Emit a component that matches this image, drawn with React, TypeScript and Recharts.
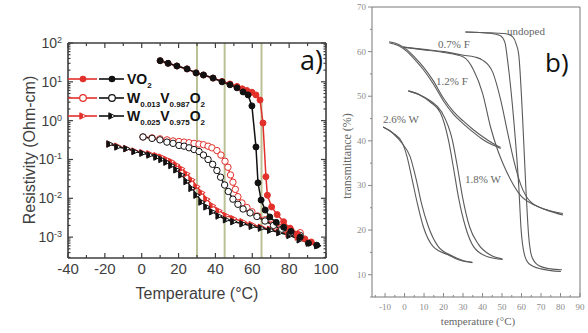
import React from 'react';
import { LineChart, Line, XAxis, YAxis, ReferenceLine } from 'recharts';

type Pt = [number, number];

// ---- panel a) resistivity (Ohm-cm) vs temperature (°C) ----
const vo2Red: Pt[] = [
  [10, 35], [14.3, 30], [19.1, 25.6], [24.6, 21.5], [29.5, 17], [33.5, 15], [38.7, 12.5], [43.6, 10.2],
  [47.9, 8.8], [51.7, 7.6], [54.5, 6.6], [57, 6], [59.8, 5.4], [62, 4.6], [64.2, 3.4], [65.8, 0.87],
  [67.4, 0.036], [68.2, 0.012], [70.5, 0.006], [73.5, 0.0038], [77, 0.0025], [80.5, 0.0017],
  [84.5, 0.0012], [88.5, 0.0009], [92, 0.00075],
];
const vo2Black: Pt[] = [
  [10, 35], [14.3, 30], [19.1, 25.6], [24.6, 21.5], [29.5, 17], [33.5, 15], [38.7, 12.5], [43.6, 10],
  [47.9, 8.4], [51.7, 7], [55, 5.5], [57.7, 4.6], [59.8, 2.4], [62, 0.21], [63.1, 0.025], [64.8, 0.009],
  [67, 0.005], [69.5, 0.0033], [73, 0.0024], [77, 0.0018], [81, 0.0014], [86, 0.001], [90.5, 0.0007],
  [95, 0.00062],
];
const w013Red: Pt[] = [
  [0.7, 0.38], [5.6, 0.36], [9.9, 0.34], [13.7, 0.32], [17, 0.3], [20.2, 0.29], [23, 0.28], [25.7, 0.27],
  [28.4, 0.26], [31.1, 0.25], [33.5, 0.24], [36, 0.22], [38.1, 0.2], [40.8, 0.17], [43, 0.13], [45.2, 0.09],
  [46.8, 0.063], [48.2, 0.04], [49.5, 0.026], [50.8, 0.017], [52.2, 0.011], [54.4, 0.0076], [57.1, 0.0058],
  [59.8, 0.0045], [63, 0.0035], [67, 0.0028], [71.5, 0.0022], [76, 0.0018], [81, 0.0015], [86, 0.0013],
];
const w013Black: Pt[] = [
  [0.7, 0.38], [5.6, 0.35], [9.9, 0.32], [13.7, 0.28], [17, 0.26], [20.2, 0.23], [23, 0.22], [25.7, 0.2],
  [28.4, 0.18], [31.1, 0.16], [33.5, 0.13], [36, 0.1], [38.5, 0.075], [40.8, 0.052], [42.8, 0.035],
  [45, 0.022], [47, 0.015], [49.5, 0.0095], [52.2, 0.007], [55, 0.0053], [58.8, 0.0042], [62.5, 0.0034],
  [66.9, 0.0026], [71.5, 0.002], [76, 0.0016], [81, 0.0013], [86, 0.0011],
];
const w025Red: Pt[] = [
  [-17.2, 0.25], [-12.9, 0.22], [-8, 0.19], [-3.6, 0.165], [0.7, 0.15], [4.5, 0.14], [8.3, 0.125],
  [11, 0.115], [13.7, 0.1], [16.4, 0.088], [19.1, 0.072], [21.8, 0.058], [24.6, 0.043], [27.3, 0.03],
  [30, 0.02], [32.7, 0.014], [35.4, 0.0095], [38.5, 0.0065], [42, 0.0048], [46, 0.0036], [50, 0.003],
  [55, 0.0025], [60, 0.0021], [65, 0.0018], [70, 0.0016], [75, 0.0014], [80, 0.0012], [85, 0.001],
];
const w025Black: Pt[] = [
  [-17.2, 0.25], [-12.9, 0.21], [-8, 0.19], [-3.6, 0.16], [0.7, 0.145], [4.5, 0.13], [8.3, 0.115],
  [11, 0.1], [13.7, 0.085], [16.4, 0.07], [19.1, 0.054], [21.8, 0.04], [24.6, 0.027], [27.3, 0.018],
  [30, 0.012], [32.7, 0.008], [35.4, 0.006], [38.5, 0.0045], [42, 0.0035], [46, 0.0028], [50, 0.0025],
  [55, 0.0022], [60, 0.0019], [65, 0.0017], [70, 0.0015], [75, 0.0013], [80.5, 0.0011], [86, 0.00085],
  [91, 0.0007], [95.6, 0.0006],
];
const transitionTemps = [30, 45, 65];
const aTempTicks = [-40, -30, -20, -10, 0, 10, 20, 30, 40, 50, 60, 70, 80, 90, 100];
const aLogMajors = [1e-3, 1e-2, 1e-1, 1, 10, 100];
const aLogMinors = [
  3e-4, 4e-4, 5e-4, 6e-4, 7e-4, 8e-4, 9e-4,
  2e-3, 3e-3, 4e-3, 5e-3, 6e-3, 7e-3, 8e-3, 9e-3,
  2e-2, 3e-2, 4e-2, 5e-2, 6e-2, 7e-2, 8e-2, 9e-2,
  0.2, 0.3, 0.4, 0.5, 0.6, 0.7, 0.8, 0.9,
  2, 3, 4, 5, 6, 7, 8, 9,
  20, 30, 40, 50, 60, 70, 80, 90,
];

// ---- panel b) transmittance (%) vs temperature (°C) ----
const undopedCool: Pt[] = [
  [31.2, 64.4], [44, 64.1], [49, 63.6], [51.5, 62], [53, 57.5], [56, 44.7], [58.6, 29.7], [59.8, 20],
  [61.5, 14.5], [64, 12.4], [70, 11.3], [80.2, 10.7],
];
const undopedHeat: Pt[] = [
  [31.2, 64.4], [44, 64.2], [52, 64], [55.5, 63.3], [57.2, 61.8], [58.6, 59.2], [60.6, 44.7], [62.2, 29.7],
  [63.7, 18.5], [65.5, 13.8], [69, 12], [75, 11.3], [80.7, 11.1],
];
const f07Cool: Pt[] = [
  [-0.7, 61], [10, 60.4], [20, 59.8], [30.2, 58.8], [35.4, 55.9], [40, 50.7], [44.1, 43.1], [47.7, 38],
  [50.3, 35.1], [54.4, 31.3], [59.6, 27.7], [67.3, 25.5], [74, 24.3], [81.2, 23.4],
];
const f07Heat: Pt[] = [
  [-0.7, 61], [10, 60.5], [20, 60], [30.2, 59.2], [36, 58.8], [40, 58.1], [45.2, 55.4], [49.3, 49.2],
  [52.9, 41.8], [56, 35.7], [59.6, 30.2], [64.7, 26.3], [72.5, 24.6], [81.2, 23.7],
];
const f12A: Pt[] = [
  [-7.9, 62.2], [-3, 61.6], [1.3, 60.4], [5.5, 58.6], [9.6, 56.6], [14.7, 53.5], [19.9, 49.6], [25, 46.6],
  [30.2, 44.4], [35, 42.6], [40.5, 40.8], [45, 39.5], [49.3, 38.5],
];
const f12B: Pt[] = [
  [-7.9, 62], [-3, 61.3], [1.3, 60], [5.5, 58.1], [9.6, 56], [14.7, 52.8], [19.9, 49], [25, 46],
  [30.2, 43.8], [35, 42], [40.5, 40.2], [45, 39.1], [49.3, 38.3],
];
const w18A: Pt[] = [
  [1.9, 51.2], [8, 50.2], [13.2, 48.7], [18.4, 46.3], [22.5, 40.2], [25, 34.2], [27.6, 27.5], [31.2, 20.8],
  [35.4, 16.3], [42.6, 14], [50.3, 13.4],
];
const w18B: Pt[] = [
  [1.9, 51.2], [8, 50.3], [13.2, 49], [19, 46.5], [24.5, 40.2], [27.1, 34.2], [29.7, 27.5], [33.3, 20.8],
  [37.9, 16.8], [44.1, 14.4], [50.3, 13.5],
];
const w26A: Pt[] = [
  [-11, 43.1], [-6, 41.8], [-1.2, 39.6], [1.3, 36.4], [3.9, 31.3], [6.5, 26.1], [9.6, 20.8], [14.7, 16.3],
  [22, 14.5], [28, 13.3], [34.8, 12.7],
];
const w26B: Pt[] = [
  [-11, 43.1], [-6, 41.7], [-1.2, 39.4], [2.9, 36.4], [6, 31.3], [8.6, 26.1], [12.2, 20.8], [17.3, 16.3],
  [24.5, 14.2], [30, 13.2], [34.8, 12.8],
];
const bTempTicks = [-15, -10, -5, 0, 5, 10, 15, 20, 25, 30, 35, 40, 45, 50, 55, 60, 65, 70, 75, 80, 85, 90];
const bTransTicks = [5, 10, 15, 20, 25, 30, 35, 40, 45, 50, 55, 60, 65, 70];

const rows = (pts: Pt[]) => pts.map(([t, v]) => ({ t, v }));

const RED = '#e2302b';
const BLK = '#111111';
const AX = '#3e3e3e';
const OLIVE = '#bcc095';
const GREY = '#5a5a5a';
const SANS = '"Liberation Sans", Arial, sans-serif';
const SERIF = '"Liberation Serif", "Times New Roman", serif';

const isMajorLog = (v: number) => Math.abs(Math.log10(v) - Math.round(Math.log10(v))) < 1e-6;

const LeftLogTick = (p: any) => {
  const { x, y, payload } = p;
  const major = isMajorLog(payload.value);
  const e = Math.round(Math.log10(payload.value));
  return (
    <g>
      <line x1={x} y1={y} x2={x + (major ? 5 : 2.5)} y2={y} stroke={AX} strokeWidth={1.2} />
      {major && (
        <text x={x - 6} y={y + 5} textAnchor="end" fontSize={14} fill={AX} fontFamily={SANS}>
          10<tspan dy={-5} fontSize={9}>{e}</tspan>
        </text>
      )}
    </g>
  );
};
const RightLogTick = (p: any) => {
  const { x, y, payload } = p;
  const major = isMajorLog(payload.value);
  return <line x1={x} y1={y} x2={x - (major ? 5 : 2.5)} y2={y} stroke={AX} strokeWidth={1.2} />;
};
const BottomTickA = (p: any) => {
  const { x, y, payload } = p;
  const major = payload.value % 20 === 0;
  return (
    <g>
      <line x1={x} y1={y} x2={x} y2={y - (major ? 5 : 3)} stroke={AX} strokeWidth={1.2} />
      {major && (
        <text x={x} y={y + 16} textAnchor="middle" fontSize={15} fill={AX} fontFamily={SANS}>
          {payload.value}
        </text>
      )}
    </g>
  );
};
const TopTickA = (p: any) => {
  const { x, y, payload } = p;
  const major = payload.value % 20 === 0;
  return <line x1={x} y1={y} x2={x} y2={y + (major ? 5 : 3)} stroke={AX} strokeWidth={1.2} />;
};

const LeftTickB = (p: any) => {
  const { x, y, payload } = p;
  const major = payload.value % 10 === 0;
  return (
    <g>
      <line x1={x} y1={y} x2={x - (major ? 4 : 2)} y2={y} stroke="#888" strokeWidth={1} />
      {major && (
        <text x={x - 6} y={y + 3} textAnchor="end" fontSize={9} fill="#8a8a8a" fontFamily={SERIF}>
          {payload.value}
        </text>
      )}
    </g>
  );
};
const BottomTickB = (p: any) => {
  const { x, y, payload } = p;
  const major = payload.value % 10 === 0;
  return (
    <g>
      <line x1={x} y1={y} x2={x} y2={y - (major ? 4 : 2)} stroke="#888" strokeWidth={1} />
      {major && (
        <text x={x} y={y + 13} textAnchor="middle" fontSize={9} fill="#8a8a8a" fontFamily={SERIF}>
          {payload.value}
        </text>
      )}
    </g>
  );
};

const HalfTri = (color: string) => (p: any) => {
  const { cx, cy, index } = p;
  if (cx == null || cy == null) return <g key={index} />;
  const s = 3.2;
  return (
    <g key={index}>
      <path d={`M${cx - s},${cy - s} L${cx + s},${cy} L${cx - s},${cy + s} Z`} fill="#fff" stroke={color} strokeWidth={1} />
      <path d={`M${cx - s},${cy - s} L${cx},${cy - s / 2} L${cx},${cy + s / 2} L${cx - s},${cy + s} Z`} fill={color} />
    </g>
  );
};

const seriesA = [
  { key: 'w025r', data: w025Red, color: RED, kind: 'tri' },
  { key: 'w025b', data: w025Black, color: BLK, kind: 'tri' },
  { key: 'w013r', data: w013Red, color: RED, kind: 'open' },
  { key: 'w013b', data: w013Black, color: BLK, kind: 'open' },
  { key: 'vo2r', data: vo2Red, color: RED, kind: 'fill' },
  { key: 'vo2b', data: vo2Black, color: BLK, kind: 'fill' },
];

const seriesB = [undopedCool, undopedHeat, f07Cool, f07Heat, f12A, f12B, w18A, w18B, w26A, w26B];

const dotFor = (kind: string, color: string): any => {
  if (kind === 'fill') return { r: 3, fill: color, stroke: color, strokeWidth: 1 };
  if (kind === 'open') return { r: 3.2, fill: '#fff', stroke: color, strokeWidth: 1 };
  return HalfTri(color);
};

const LegendRow = ({ y, kind, children }: { y: number; kind: string; children: React.ReactNode }) => (
  <g>
    <line x1={68} x2={97} y1={y} y2={y} stroke={RED} strokeWidth={1.6} />
    <line x1={99} x2={124} y1={y} y2={y} stroke={BLK} strokeWidth={1.6} />
    {kind === 'fill' && (
      <>
        <circle cx={83} cy={y} r={3.3} fill={RED} />
        <circle cx={112} cy={y} r={3.3} fill={BLK} />
      </>
    )}
    {kind === 'open' && (
      <>
        <circle cx={83} cy={y} r={3.3} fill="#fff" stroke={RED} strokeWidth={1.2} />
        <circle cx={112} cy={y} r={3.3} fill="#fff" stroke={BLK} strokeWidth={1.2} />
      </>
    )}
    {kind === 'tri' && (
      <>
        {HalfTri(RED)({ cx: 83, cy: y, index: 0 })}
        {HalfTri(BLK)({ cx: 112, cy: y, index: 1 })}
      </>
    )}
    <text x={127} y={y + 5} fontSize={14} fontWeight="bold" fill={BLK} fontFamily={SANS}>
      {children}
    </text>
  </g>
);

export default function App() {
  return (
    <div style={{ position: 'absolute', left: 0, top: 0, width: 588, height: 333, background: '#fff', overflow: 'hidden' }}>
      <div style={{ position: 'absolute', left: 0, top: 0 }}>
        <LineChart width={345} height={333} margin={{ top: 42, right: 18, bottom: 45, left: 8 }}>
          <XAxis
            type="number"
            dataKey="t"
            domain={[-40, 100]}
            ticks={aTempTicks}
            interval={0}
            allowDataOverflow
            height={30}
            tickSize={0}
            tickMargin={0}
            tick={<BottomTickA />}
            axisLine={{ stroke: AX, strokeWidth: 1.6 }}
          />
          <XAxis
            xAxisId="top"
            orientation="top"
            type="number"
            dataKey="t"
            domain={[-40, 100]}
            ticks={aTempTicks}
            interval={0}
            allowDataOverflow
            height={1}
            tickSize={0}
            tickMargin={0}
            tick={<TopTickA />}
            axisLine={{ stroke: AX, strokeWidth: 1.6 }}
          />
          <YAxis
            type="number"
            scale="log"
            domain={[2.9e-4, 100]}
            ticks={[...aLogMajors, ...aLogMinors]}
            interval={0}
            allowDataOverflow
            width={60}
            tickSize={0}
            tickMargin={0}
            tick={<LeftLogTick />}
            axisLine={{ stroke: AX, strokeWidth: 1.6 }}
          />
          <YAxis
            yAxisId="right"
            orientation="right"
            type="number"
            scale="log"
            domain={[2.9e-4, 100]}
            ticks={[...aLogMajors, ...aLogMinors]}
            interval={0}
            allowDataOverflow
            width={1}
            tickSize={0}
            tickMargin={0}
            tick={<RightLogTick />}
            axisLine={{ stroke: AX, strokeWidth: 1.6 }}
          />
          {transitionTemps.map((t) => (
            <ReferenceLine key={t} x={t} stroke={OLIVE} strokeWidth={2} />
          ))}
          {seriesA.map((s) => (
            <Line
              key={s.key}
              data={rows(s.data)}
              dataKey="v"
              type="linear"
              stroke={s.color}
              strokeWidth={1.5}
              dot={dotFor(s.kind, s.color)}
              activeDot={false}
              isAnimationActive={false}
            />
          ))}
        </LineChart>
      </div>

      <div style={{ position: 'absolute', left: 330, top: 0 }}>
        <LineChart width={258} height={333} margin={{ top: 6, right: 7, bottom: 16, left: 12 }}>
          <XAxis
            type="number"
            dataKey="t"
            domain={[-16.7, 90]}
            ticks={bTempTicks}
            interval={0}
            allowDataOverflow
            height={20}
            tickSize={0}
            tickMargin={0}
            tick={<BottomTickB />}
            axisLine={{ stroke: '#777', strokeWidth: 1 }}
          />
          <XAxis xAxisId="top" orientation="top" type="number" domain={[-16.7, 90]} allowDataOverflow height={1} tick={false} tickLine={false} axisLine={{ stroke: '#777', strokeWidth: 1 }} />
          <YAxis
            type="number"
            domain={[5, 70]}
            ticks={bTransTicks}
            interval={0}
            allowDataOverflow
            width={30}
            tickSize={0}
            tickMargin={0}
            tick={<LeftTickB />}
            axisLine={{ stroke: '#777', strokeWidth: 1 }}
          />
          <YAxis yAxisId="right" orientation="right" type="number" domain={[5, 70]} allowDataOverflow width={1} tick={false} tickLine={false} axisLine={{ stroke: '#777', strokeWidth: 1 }} />
          {seriesB.map((d, i) => (
            <Line
              key={i}
              data={rows(d)}
              dataKey="v"
              type="monotone"
              stroke={GREY}
              strokeWidth={1.1}
              dot={false}
              activeDot={false}
              isAnimationActive={false}
            />
          ))}
        </LineChart>
      </div>

      <svg width={588} height={333} style={{ position: 'absolute', left: 0, top: 0, pointerEvents: 'none' }}>
        {/* panel a titles + legend */}
        <text x={197} y={299} textAnchor="middle" fontSize={16} fill={AX} fontFamily={SANS}>Temperature (°C)</text>
        <text transform="translate(35,150) rotate(-90)" textAnchor="middle" fontSize={16} fill={AX} fontFamily={SANS}>
          Resistivity (Ohm-cm)
        </text>
        <LegendRow y={79} kind="fill">
          VO<tspan dy={4} fontSize={8}>2</tspan>
        </LegendRow>
        <LegendRow y={98} kind="open">
          W<tspan dy={4} fontSize={8}>0.013</tspan>
          <tspan dy={-4}>V</tspan>
          <tspan dy={4} fontSize={8}>0.987</tspan>
          <tspan dy={-4}>O</tspan>
          <tspan dy={4} fontSize={8}>2</tspan>
        </LegendRow>
        <LegendRow y={116} kind="tri">
          W<tspan dy={4} fontSize={8}>0.025</tspan>
          <tspan dy={-4}>V</tspan>
          <tspan dy={4} fontSize={8}>0.975</tspan>
          <tspan dy={-4}>O</tspan>
          <tspan dy={4} fontSize={8}>2</tspan>
        </LegendRow>
        <text x={300} y={70} fontSize={27} fill="#111" fontFamily='"Open Sans", sans-serif'>a)</text>

        {/* panel b titles + curve labels */}
        <text x={478} y={325} textAnchor="middle" fontSize={11} fill="#666" fontFamily={SERIF}>temperature (°C)</text>
        <text transform="translate(351,156) rotate(-90)" textAnchor="middle" fontSize={12} fill="#666" fontFamily={SERIF}>
          transmittance (%)
        </text>
        <text x={507} y={35} fontSize={11} fill="#666" fontFamily={SERIF}>undoped</text>
        <text x={438} y={48} fontSize={11} fill="#666" fontFamily={SERIF}>0.7% F</text>
        <text x={436} y={85} fontSize={11} fill="#666" fontFamily={SERIF}>1.2% F</text>
        <text x={383} y={123} fontSize={11} fill="#666" fontFamily={SERIF}>2.6% W</text>
        <text x={465} y={183} fontSize={11} fill="#666" fontFamily={SERIF}>1.8% W</text>
        <text x={545} y={72} fontSize={26} fill="#111" fontFamily='"Open Sans", sans-serif'>b)</text>
      </svg>
    </div>
  );
}
